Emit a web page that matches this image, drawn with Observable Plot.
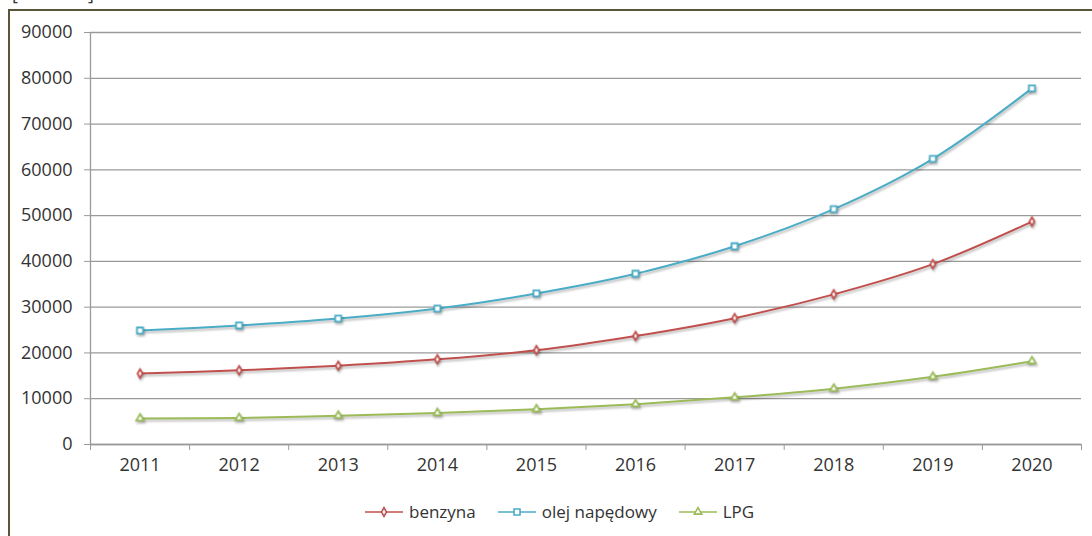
<!DOCTYPE html>
<html>
<head>
<meta charset="utf-8">
<script src="https://cdn.jsdelivr.net/npm/d3@7"></script>
<script src="https://cdn.jsdelivr.net/npm/@observablehq/plot@0.6"></script>
<style>
  html, body { margin: 0; padding: 0; background: #fff; }
  body { width: 1092px; height: 536px; position: relative; overflow: hidden; font-family: "Open Sans", sans-serif; }
  #frame { position: absolute; left: 8px; top: 9px; width: 1200px; height: 600px;
           border-left: 2px solid #5a5438; border-top: 2px solid #5a5438; }
  #chart { position: absolute; left: 0; top: 0; }
  .br { position: absolute; top: -19px; font-size: 18px; color: #333; }
  #legend { position: absolute; top: 500px; left: 365px; display: flex; align-items: center;
            font-size: 17px; color: #333; }
  #legend .item { display: flex; align-items: center; margin-right: 22px; }
  #legend svg { margin-right: 4px; }
</style>
</head>
<body>
<div id="frame"></div>
<div class="br" style="left:12px">[</div>
<div class="br" style="left:88px">]</div>
<div id="chart"></div>
<div id="legend"></div>
<script>
const years = [2011, 2012, 2013, 2014, 2015, 2016, 2017, 2018, 2019, 2020];
const benzyna = [15500, 16200, 17200, 18600, 20600, 23700, 27600, 32800, 39400, 48700];
const olej = [24900, 26000, 27500, 29700, 33000, 37300, 43300, 51400, 62400, 77800];
const lpg = [5700, 5800, 6300, 6900, 7700, 8800, 10300, 12200, 14800, 18200];
const seriesNames = ["benzyna", "olej napędowy", "LPG"];
const seriesColors = ["#C0504D", "#4BACC6", "#9BBB59"];
const seriesSymbols = ["diamond", "square", "triangle"];
const yTicks = [0, 10000, 20000, 30000, 40000, 50000, 60000, 70000, 80000, 90000];

const values = [benzyna, olej, lpg];
const data = [];
values.forEach((arr, si) => arr.forEach((v, i) => data.push({series: seriesNames[si], year: years[i], value: v})));
const bounds = years.map(y => y - 0.5).concat([years[years.length - 1] + 0.5]);

const marks = [
  Plot.gridY(yTicks, {stroke: "#9a9a9a", strokeOpacity: 1, strokeWidth: 1.3}),
  Plot.axisY({ticks: yTicks, tickSize: 6, tickPadding: 12, fontSize: 18, stroke: "#9a9a9a", tickFormat: d => String(d), label: null}),
  Plot.ruleX([bounds[0]], {stroke: "#9a9a9a", strokeWidth: 1.3}),
  Plot.ruleY([0], {stroke: "#9a9a9a", strokeWidth: 1.3}),
  Plot.axisX({ticks: bounds, tickSize: 6, tickFormat: () => "", stroke: "#9a9a9a", label: null}),
  Plot.axisX({ticks: years, tickSize: 0, tickPadding: 14, fontSize: 18, tickFormat: d => String(d), label: null})
];
seriesNames.forEach((name, si) => {
  const d = data.filter(r => r.series === name);
  marks.push(Plot.line(d, {x: "year", y: "value", stroke: seriesColors[si], strokeWidth: 2, curve: "catmull-rom", className: "series-line"}));
  marks.push(Plot.dot(d, {x: "year", y: "value", symbol: seriesSymbols[si], r: [2.6, 3.4, 2.8][si], stroke: seriesColors[si], strokeWidth: 1.8, fill: "#fff", className: "series-line"}));
});

const chart = Plot.plot({
  width: 1092,
  height: 482,
  marginLeft: 90,
  marginRight: 11,
  marginTop: 32,
  marginBottom: 38,
  style: {fontFamily: "Open Sans, sans-serif", color: "#333", background: "transparent"},
  x: {type: "linear", domain: [bounds[0], bounds[bounds.length - 1]]},
  y: {domain: [0, 90000]},
  marks
});
document.getElementById("chart").appendChild(chart);
d3.select(chart).selectAll(".series-line").style("filter", "drop-shadow(1px 2px 1.2px rgba(0,0,0,0.28))");

const legend = d3.select("#legend");
seriesNames.forEach((name, si) => {
  const item = legend.append("div").attr("class", "item");
  const svg = item.append("svg").attr("width", 40).attr("height", 14);
  svg.append("line").attr("x1", 0).attr("x2", 38).attr("y1", 7).attr("y2", 7)
     .attr("stroke", seriesColors[si]).attr("stroke-width", 1.6);
  const sym = d3.symbol().type([d3.symbolDiamond, d3.symbolSquare, d3.symbolTriangle][si]).size([22, 36, 24][si]);
  svg.append("path").attr("d", sym()).attr("transform", "translate(19,7)")
     .attr("fill", "#fff").attr("stroke", seriesColors[si]).attr("stroke-width", 1.6);
  item.append("span").text(name);
});
</script>
</body>
</html>
